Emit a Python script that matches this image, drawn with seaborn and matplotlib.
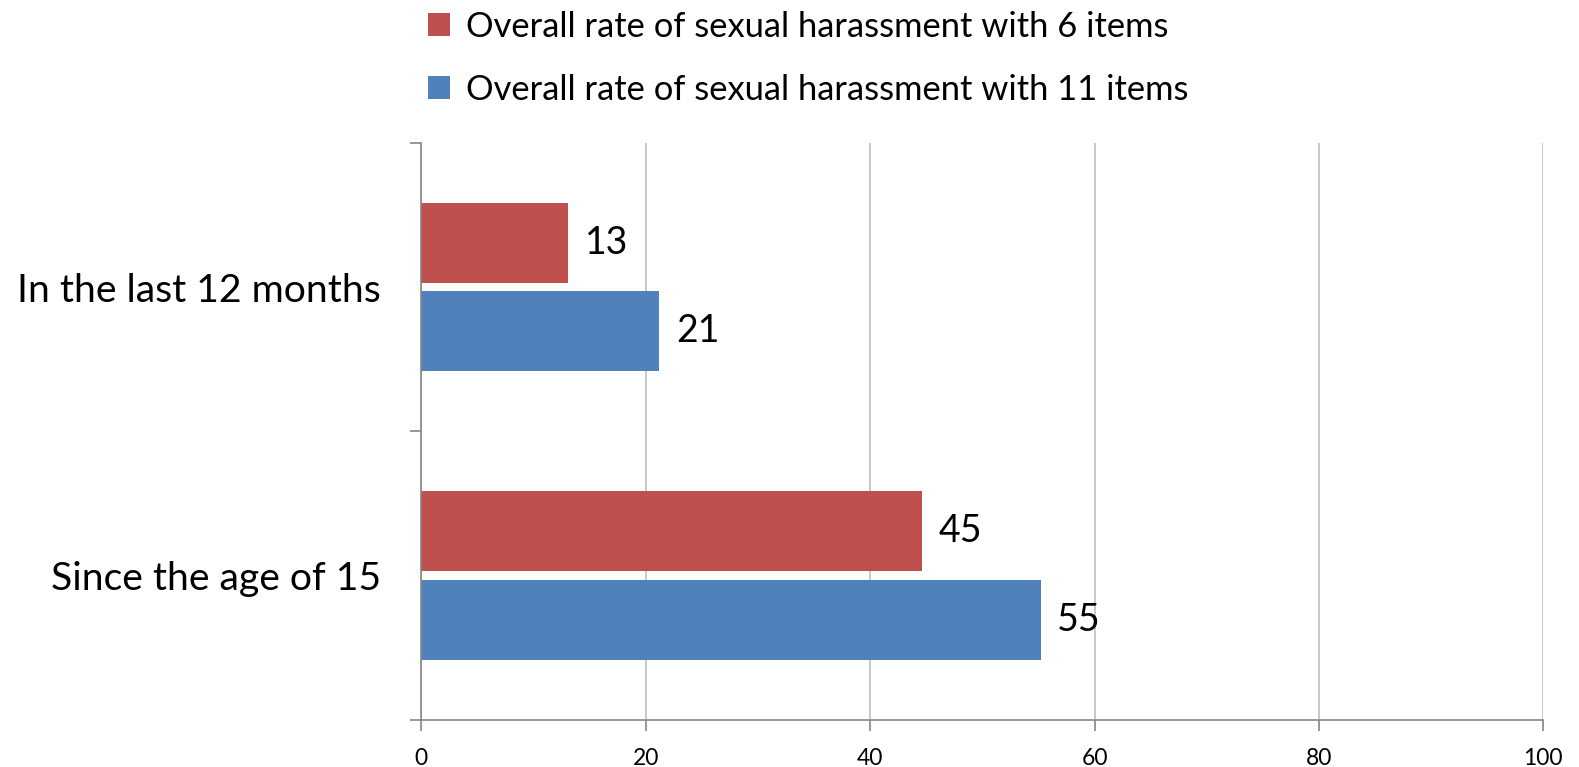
import matplotlib
matplotlib.use("Agg")
import matplotlib.pyplot as plt
import seaborn as sns
import pandas as pd
from matplotlib.patches import Patch
from matplotlib.ticker import FixedLocator

categories = ["In the last 12 months", "Since the age of 15"]
series_names = ["Overall rate of sexual harassment with 6 items",
                "Overall rate of sexual harassment with 11 items"]
values_6 = [13.1, 44.6]
values_11 = [21.2, 55.2]
labels_6 = ["13", "45"]
labels_11 = ["21", "55"]
x_ticks = [0, 20, 40, 60, 80, 100]
colors = ["#C0504D", "#4F81BD"]

sns.set_theme(style="white")
plt.rcParams['font.family'] = ['Lato', 'DejaVu Sans']
plt.rcParams['text.color'] = 'black'
plt.rcParams['xtick.color'] = 'black'
plt.rcParams['ytick.color'] = 'black'

df = pd.DataFrame({
    "category": categories * 2,
    "series": [series_names[0]] * 2 + [series_names[1]] * 2,
    "value": values_6 + values_11,
})

fig = plt.figure(figsize=(15.79, 7.67), dpi=100)
ax = fig.add_axes([421.3 / 1579, 1 - 720 / 767, (1543.3 - 421.3) / 1579, (720 - 142.7) / 767])

sns.barplot(data=df, y="category", x="value", hue="series", order=categories,
            hue_order=series_names, palette=colors, orient="h", width=0.614, gap=0.1,
            saturation=1, edgecolor="none", legend=False, ax=ax)

ax.set_xlim(0, 100)
ax.set_ylim(1.5, -0.5)
ax.set_xticks(x_ticks)
ax.set_xticklabels([str(t) for t in x_ticks], fontsize=16.5, color="black")
ax.xaxis.grid(True, color="#BFBFBF", linewidth=1.2)
ax.set_axisbelow(True)
ax.tick_params(axis="x", bottom=True, length=8, width=1.2, color="#868686",
               labelcolor="black", direction="out", pad=12)

ax.set_yticks([0, 1])
ax.set_yticklabels(categories, fontsize=28.2, color="black")
ax.tick_params(axis="y", which="major", left=True, length=0, pad=29, labelcolor="black")
ax.yaxis.set_minor_locator(FixedLocator([-0.5, 0.5, 1.5]))
ax.tick_params(axis="y", which="minor", left=True, length=8, width=1.2,
               color="#868686", direction="out")

ax.set_xlabel("")
ax.set_ylabel("")
for s in ["top", "right"]:
    ax.spines[s].set_visible(False)
for s in ["left", "bottom"]:
    ax.spines[s].set_color("#868686")
    ax.spines[s].set_linewidth(1.2)

for cont, labs in zip(ax.containers, [labels_6, labels_11]):
    ax.bar_label(cont, labels=labs, padding=12, fontsize=27, color="black")

handles = [Patch(facecolor=c, edgecolor="none") for c in colors]
fig.legend(handles, series_names, loc="upper left", bbox_to_anchor=(414 / 1579, 1.0 + 3 / 767),
           frameon=False, fontsize=24.8, handlelength=0.65, handleheight=0.65,
           handletextpad=0.45, labelspacing=0.9, borderaxespad=0.0,
           labelcolor="black")

fig.savefig("out.png", dpi=100)
